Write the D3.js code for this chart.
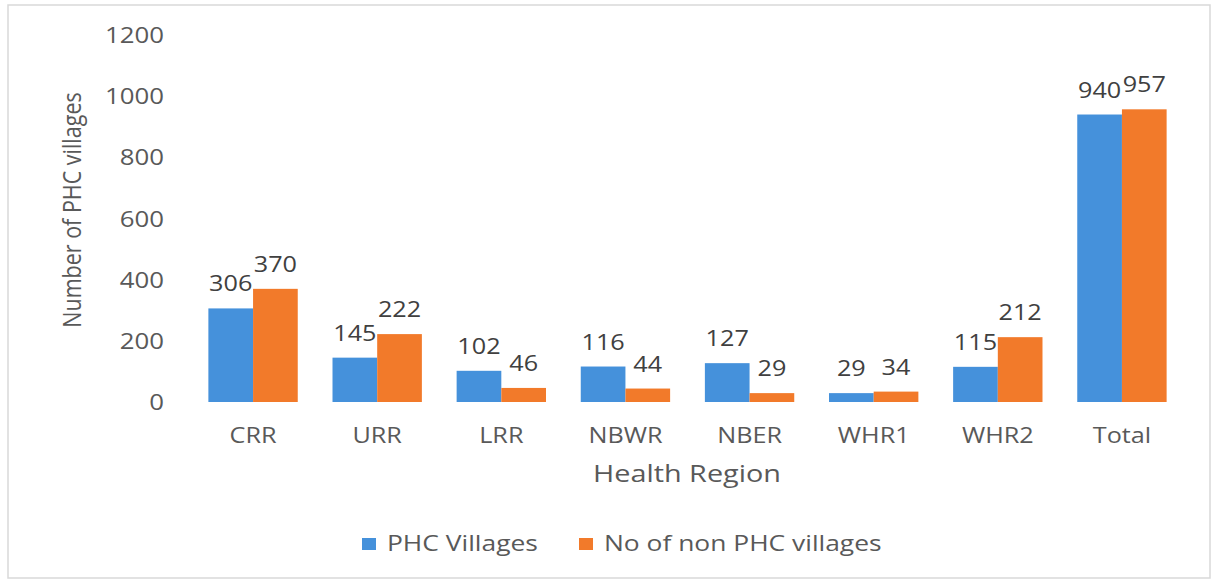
<!DOCTYPE html>
<html>
<head>
<meta charset="utf-8">
<script src="https://cdn.jsdelivr.net/npm/d3@7"></script>
<style>
  body { margin: 0; background: #fff; }
  svg text { font-family: "Open Sans", sans-serif; }
</style>
</head>
<body>
<div id="chart"></div>
<script>
// data
const regions = ["CRR", "URR", "LRR", "NBWR", "NBER", "WHR1", "WHR2", "Total"];
const seriesNames = ["PHC Villages", "No of non PHC villages"];
const phcVillages = [306, 145, 102, 116, 127, 29, 115, 940];
const nonPhcVillages = [370, 222, 46, 44, 29, 34, 212, 957];
const yTicks = [0, 200, 400, 600, 800, 1000, 1200];

const W = 1215, H = 581;
const colors = ["#4591DB", "#F27A2A"];
const sx = 1.2; // the picture text is a bit stretched sideways

const svg = d3.select("#chart").append("svg")
    .attr("width", W)
    .attr("height", H);

// chart border
svg.append("rect")
    .attr("x", 8).attr("y", 5)
    .attr("width", 1202).attr("height", 573)
    .attr("fill", "#fff")
    .attr("stroke", "#d9d9d9")
    .attr("stroke-width", 1.5);

const x = d3.scaleBand()
    .domain(regions)
    .range([191, 1184])
    .paddingInner(0.28)
    .paddingOuter(0.14);

const xSub = d3.scaleBand()
    .domain(seriesNames)
    .range([0, x.bandwidth()]);

const y = d3.scaleLinear()
    .domain([0, 1200])
    .range([402, 35]);

const rows = regions.map((r, i) => ({
    region: r,
    values: [
        { name: seriesNames[0], value: phcVillages[i] },
        { name: seriesNames[1], value: nonPhcVillages[i] }
    ]
}));

// y axis (labels only)
const yAxis = svg.append("g")
    .attr("transform", `translate(${x.range()[0]},0)`)
    .call(d3.axisLeft(y).tickValues(yTicks).tickSize(0).tickFormat(d3.format("d")));
yAxis.select(".domain").remove();
yAxis.selectAll("text")
    .attr("x", 0)
    .attr("dy", "0.35em")
    .attr("transform", `translate(-27,0) scale(${sx},1)`)
    .style("font-size", "21.5px")
    .style("fill", "#595959")
    .style("font-family", "Open Sans, sans-serif");

// bars
const groups = svg.append("g")
    .selectAll("g")
    .data(rows)
    .join("g")
    .attr("transform", d => `translate(${x(d.region)},0)`);

groups.selectAll("rect")
    .data(d => d.values)
    .join("rect")
    .attr("x", d => xSub(d.name))
    .attr("y", d => y(d.value))
    .attr("width", xSub.bandwidth())
    .attr("height", d => y(0) - y(d.value))
    .attr("fill", (d, i) => colors[i]);

// data labels
groups.selectAll("text")
    .data(d => d.values)
    .join("text")
    .attr("transform", d => `translate(${xSub(d.name) + xSub.bandwidth() / 2},${y(d.value) - 17}) scale(${sx},1)`)
    .attr("text-anchor", "middle")
    .style("font-size", "21px")
    .style("fill", "#404040")
    .text(d => d.value);

// x axis (labels only)
const xAxis = svg.append("g")
    .attr("transform", `translate(0,${y(0)})`)
    .call(d3.axisBottom(x).tickSize(0));
xAxis.select(".domain").remove();
xAxis.selectAll("text")
    .attr("y", 0)
    .attr("dy", 0)
    .attr("transform", `translate(0,41) scale(${sx},1)`)
    .style("font-size", "21px")
    .style("fill", "#595959")
    .style("font-family", "Open Sans, sans-serif");

// axis titles
svg.append("text")
    .attr("transform", `translate(687,482) scale(${sx},1)`)
    .attr("text-anchor", "middle")
    .style("font-size", "24px")
    .style("fill", "#595959")
    .text("Health Region");

svg.append("text")
    .attr("transform", `translate(81,210) scale(${sx},1) rotate(-90)`)
    .attr("text-anchor", "middle")
    .style("font-size", "21.5px")
    .style("fill", "#595959")
    .text("Number of PHC villages");

// legend
const legendPos = [362, 579];
const legend = svg.append("g")
    .selectAll("g")
    .data(seriesNames)
    .join("g")
    .attr("transform", (d, i) => `translate(${legendPos[i]},538)`);

legend.append("rect")
    .attr("width", 14)
    .attr("height", 12)
    .attr("fill", (d, i) => colors[i]);

legend.append("text")
    .attr("transform", `translate(25,13) scale(${sx},1)`)
    .style("font-size", "22px")
    .style("fill", "#595959")
    .text(d => d);
</script>
</body>
</html>
